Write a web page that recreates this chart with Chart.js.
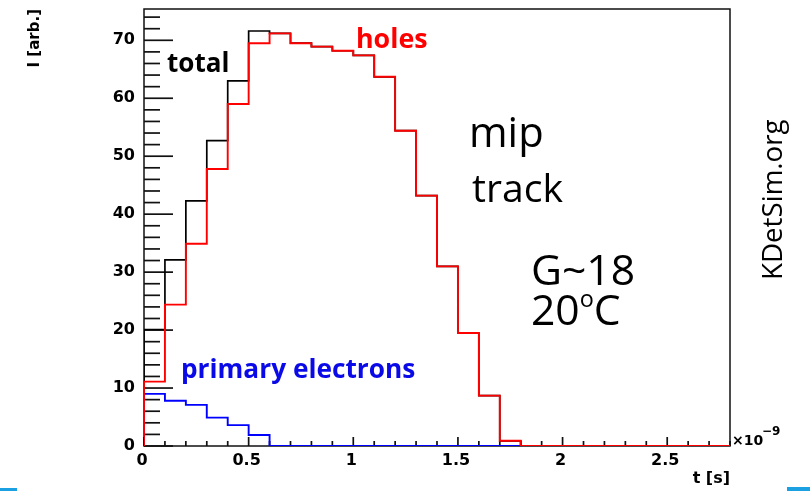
<!DOCTYPE html>
<html><head><meta charset="utf-8">
<script src="https://cdn.jsdelivr.net/npm/chart.js@4/dist/chart.umd.min.js"></script>
<style>html,body{margin:0;padding:0;background:#fff;} canvas{display:block}</style>
</head><body>
<canvas id="c" width="810" height="491"></canvas>
<script>
// ---- data ----
const binEdges = [0,0.1,0.2,0.3,0.4,0.5,0.6,0.7,0.8,0.9,1.0,1.1,1.2,1.3,1.4,1.5,1.6,1.7,1.8,1.9,2.0,2.1,2.2,2.3,2.4,2.5,2.6,2.7,2.8];
const holes = [11.1,24.4,34.9,47.8,59.0,69.5,71.2,69.5,68.9,68.2,67.4,63.7,54.4,43.2,31.0,19.5,8.7,0.9,0,0,0,0,0,0,0,0,0,0];
const primaryElectrons = [9.0,7.8,7.1,4.9,3.6,1.9,0,0,0,0,0,0,0,0,0,0,0,0,0,0,0,0,0,0,0,0,0,0];
const total = [20.1,32.1,42.3,52.7,63.0,71.6,71.2,69.5,68.9,68.2,67.4,63.7,54.4,43.2,31.0,19.5,8.7,0.9,0,0,0,0,0,0,0,0,0,0];
const xTickValues = [0,0.5,1,1.5,2,2.5];
const yTickValues = [0,10,20,30,40,50,60,70];
const xRange = [0, 2.8];
const yRange = [0, 75.4];
const xTitle = 't [s]';
const yTitle = 'I [arb.]';

function histPoints(vals){
  const pts = [{x: binEdges[0], y: 0}];
  for (let i = 0; i < vals.length; i++) pts.push({x: binEdges[i], y: vals[i]});
  pts.push({x: binEdges[vals.length], y: vals[vals.length-1]});
  pts.push({x: binEdges[vals.length], y: 0});
  return pts;
}

function axFont(size){ return {family: 'DejaVu Sans', weight: 'bold', size: size, lineHeight: 1.2}; }

const framePlugin = {
  id: 'frame',
  beforeDatasetsDraw(chart){
    const {ctx, chartArea: {left, right, top, bottom}, scales: {x, y}} = chart;
    ctx.save();
    ctx.strokeStyle = '#111';
    ctx.lineWidth = 1.5;
    ctx.strokeRect(left, top, right-left, bottom-top);
    ctx.lineWidth = 1.7;
    for (let i = 0; i <= 37; i++) {
      const v = i*2;
      const py = y.getPixelForValue(v);
      ctx.beginPath(); ctx.moveTo(left, py); ctx.lineTo(left + (v % 10 === 0 ? 29 : 16), py); ctx.stroke();
    }
    for (let i = 0; i <= 28; i++) {
      const px = x.getPixelForValue(i/10);
      ctx.beginPath(); ctx.moveTo(px, bottom); ctx.lineTo(px, bottom - (i % 5 === 0 ? 9 : 5)); ctx.stroke();
    }
    ctx.restore();
  }
};

function fitSize(ctx, text, family, weight, targetW){
  ctx.font = `${weight} 40px "${family}"`;
  const m = ctx.measureText(text);
  return 40 * targetW / (m.actualBoundingBoxLeft + m.actualBoundingBoxRight);
}
function drawFit(ctx, text, family, weight, color, left, baseline, targetW){
  const s = fitSize(ctx, text, family, weight, targetW);
  ctx.font = `${weight} ${s}px "${family}"`;
  const m = ctx.measureText(text);
  ctx.fillStyle = color;
  ctx.textAlign = 'left'; ctx.textBaseline = 'alphabetic';
  ctx.fillText(text, left + m.actualBoundingBoxLeft, baseline);
  return s;
}

const annotPlugin = {
  id: 'annot',
  afterDraw(chart){
    const ctx = chart.ctx;
    ctx.save();
    drawFit(ctx, 'total', 'Open Sans', 'bold', '#000', 167, 72, 61);
    drawFit(ctx, 'holes', 'Open Sans', 'bold', '#ff0000', 358, 48, 69);
    drawFit(ctx, 'primary electrons', 'Open Sans', 'bold', '#0a0ae8', 183, 378, 232);
    drawFit(ctx, 'mip', 'Open Sans', 'normal', '#000', 472, 147, 70);
    drawFit(ctx, 'track', 'Open Sans', 'normal', '#000', 472, 202, 91);
    const s = drawFit(ctx, 'G~18', 'Open Sans', 'normal', '#000', 533, 285, 100);
    // 20°C with superscript o
    ctx.fillStyle = '#000';
    ctx.font = `normal ${s}px "Open Sans"`;
    let m = ctx.measureText('20');
    let cx = 533 + m.actualBoundingBoxLeft;
    ctx.fillText('20', cx, 325);
    cx += m.width;
    ctx.font = `normal ${s*0.55}px "Open Sans"`;
    m = ctx.measureText('o');
    ctx.fillText('o', cx, 307);
    cx += m.width;
    ctx.font = `normal ${s}px "Open Sans"`;
    ctx.fillText('C', cx, 325);
    // rotated site label
    ctx.save();
    ctx.translate(782, 278);
    ctx.rotate(-Math.PI/2);
    drawFit(ctx, 'KDetSim.org', 'Open Sans', 'normal', '#000', 0, 0, 158);
    ctx.restore();
    // axis exponent
    ctx.fillStyle = '#000';
    ctx.font = 'bold 14px "DejaVu Sans"';
    ctx.fillText('\u00d710', 732, 445);
    ctx.font = 'bold 12px "DejaVu Sans"';
    ctx.fillText('\u22129', 762, 435);
    // slide decoration bars
    ctx.fillStyle = '#1ba1e2';
    ctx.fillRect(0, 488, 17, 3);
    ctx.fillRect(787, 487, 23, 4);
    ctx.restore();
  }
};

new Chart(document.getElementById('c'), {
  type: 'line',
  data: {
    datasets: [
      {label: 'holes', data: histPoints(holes), borderColor: '#ff0000', borderWidth: 1.9, stepped: true, pointRadius: 0, fill: false},
      {label: 'primary electrons', data: histPoints(primaryElectrons), borderColor: '#0000ff', borderWidth: 1.9, stepped: true, pointRadius: 0, fill: false},
      {label: 'total', data: histPoints(total), borderColor: '#000000', borderWidth: 1.7, stepped: true, pointRadius: 0, fill: false}
    ]
  },
  options: {
    responsive: false,
    animation: false,
    events: [],
    layout: {padding: {left: 0, right: 80, top: 9, bottom: 0}},
    plugins: {legend: {display: false}, tooltip: {enabled: false}},
    scales: {
      x: {
        type: 'linear', min: xRange[0], max: xRange[1],
        grid: {display: false, drawTicks: false}, border: {display: false},
        afterBuildTicks: s => { s.ticks = xTickValues.map(v => ({value: v})); },
        afterFit: s => { s.height = 45; s.paddingLeft = 0; s.paddingRight = 0; },
        ticks: {font: axFont(16), color: '#000', padding: 5, labelOffset: -2, maxRotation: 0, autoSkip: false, callback: v => String(v)},
        title: {display: true, text: xTitle, align: 'end', color: '#000', font: axFont(16), padding: {top: 0, bottom: 3}}
      },
      y: {
        type: 'linear', min: yRange[0], max: yRange[1],
        grid: {display: false, drawTicks: false}, border: {display: false},
        afterBuildTicks: s => { s.ticks = yTickValues.map(v => ({value: v})); },
        afterFit: s => { s.width = 144; s.paddingTop = 0; s.paddingBottom = 0; },
        ticks: {font: axFont(16), color: '#000', padding: 9, autoSkip: false, callback: v => String(v)},
        title: {display: true, text: yTitle, align: 'end', color: '#000', font: axFont(15), padding: {top: 26.5, bottom: 0}}
      }
    }
  },
  plugins: [framePlugin, annotPlugin]
});
</script>
</body></html>
